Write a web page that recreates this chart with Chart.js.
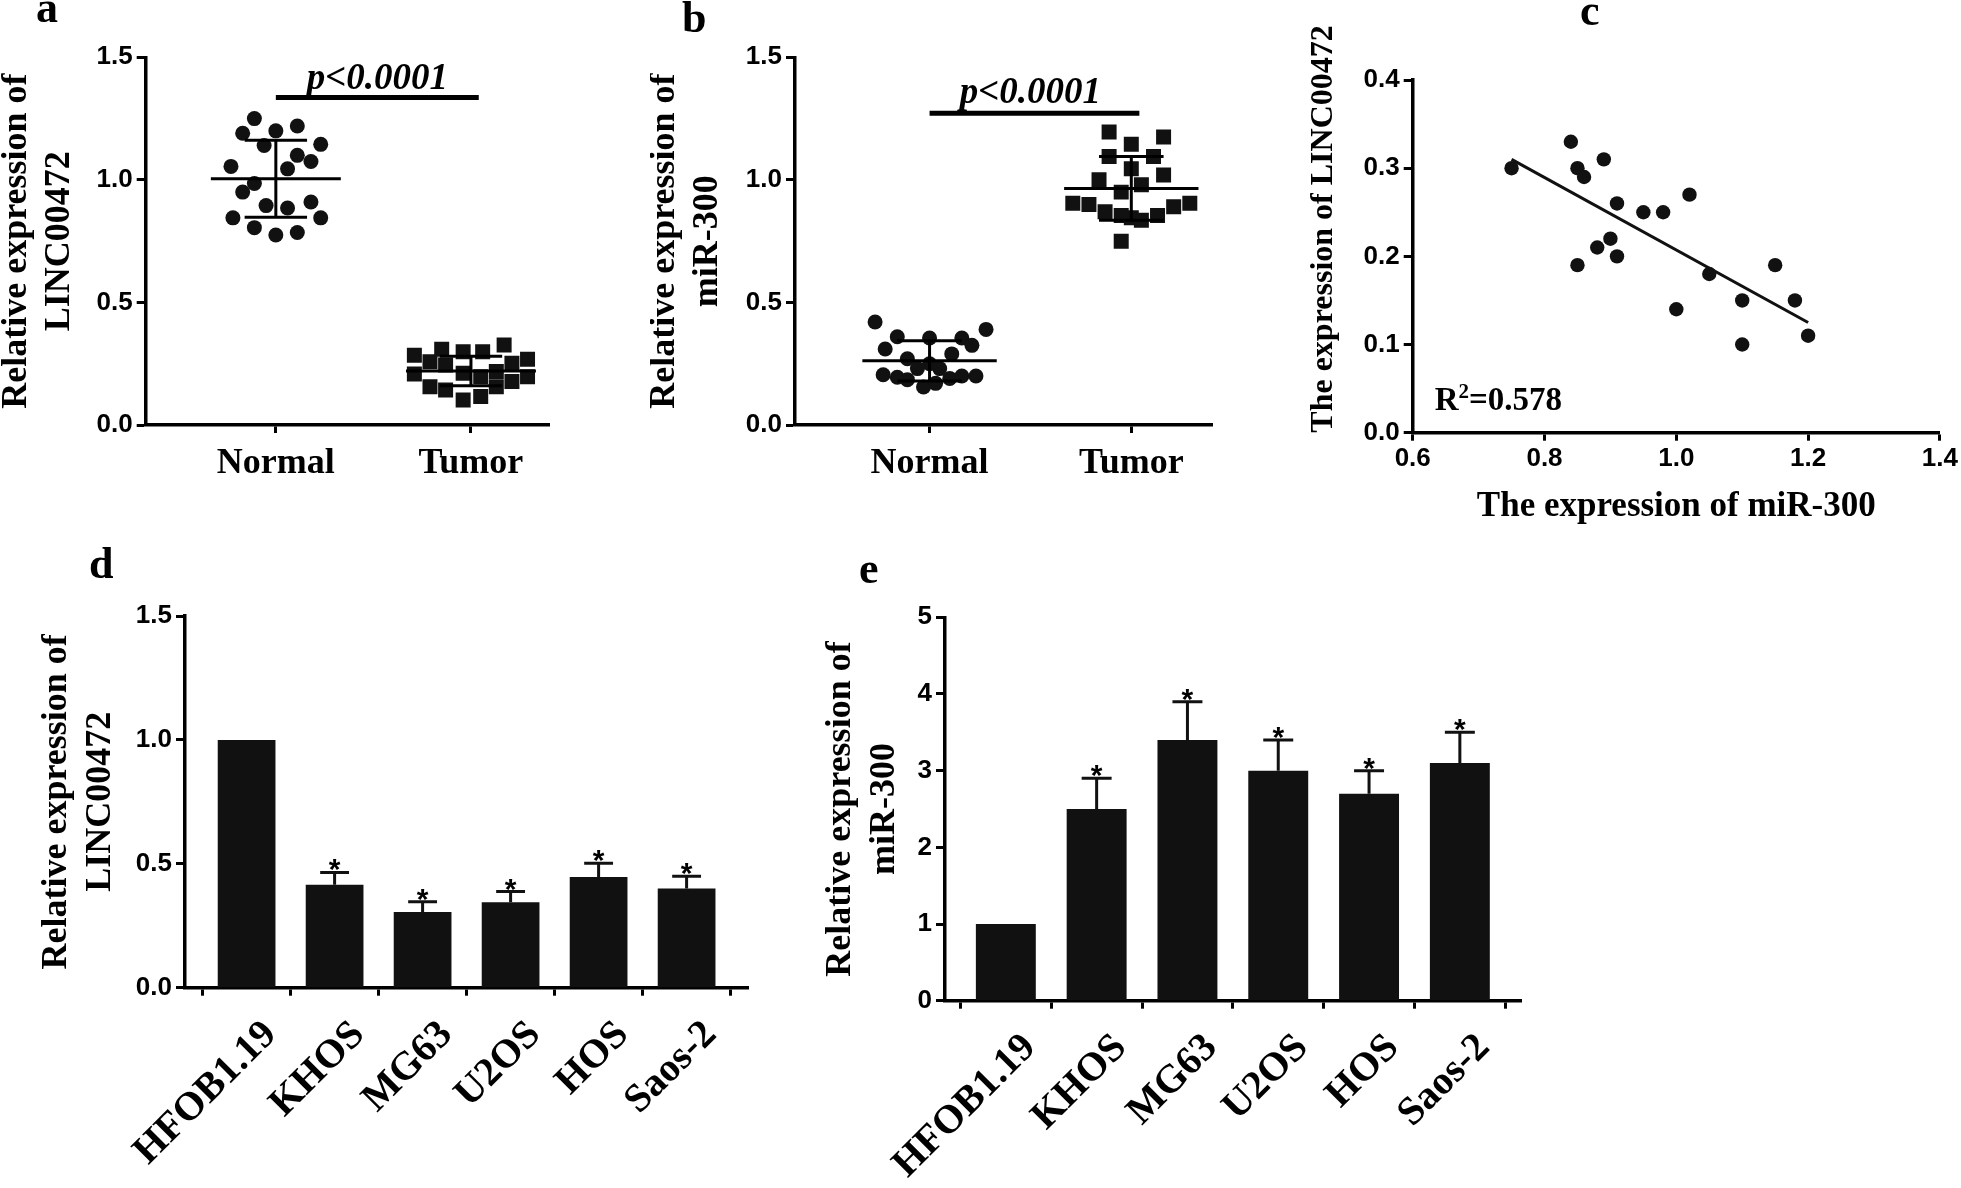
<!DOCTYPE html>
<html>
<head>
<meta charset="utf-8">
<script src="https://cdn.jsdelivr.net/npm/chart.js@4.4.1/dist/chart.umd.min.js"></script>
<style>
html, body { margin: 0; padding: 0; background: #fff; width: 1961px; height: 1188px; overflow: hidden; }
canvas { position: absolute; }
</style>
</head>
<body>
<canvas id="ca" width="570" height="500" style="left:0px;top:0px"></canvas>
<canvas id="cb" width="580" height="500" style="left:650px;top:0px"></canvas>
<canvas id="cc" width="666" height="530" style="left:1295px;top:0px"></canvas>
<canvas id="cd" width="770" height="648" style="left:0px;top:540px"></canvas>
<canvas id="ce" width="760" height="648" style="left:790px;top:540px"></canvas>
<script>
var SERIF = "'Liberation Serif', 'Times New Roman', serif";
var SANS = "'Liberation Sans', Arial, sans-serif";
var INK = '#111';

// ---- a : LINC00472, normal vs tumor (x = group + jitter) ----
var groupLabels = ['Normal', 'Tumor'];
var aNormalX = [0.89, 0.83, 1.0, 1.11, 1.23, 0.94, 1.11, 1.18, 0.77, 1.06, 0.89, 0.83, 1.18, 0.95, 1.06, 0.78, 1.23, 0.89, 1.11, 1.0];
var aNormalY = [1.25, 1.19, 1.20, 1.22, 1.145, 1.14, 1.10, 1.075, 1.055, 1.045, 0.985, 0.95, 0.91, 0.895, 0.885, 0.845, 0.845, 0.805, 0.785, 0.775];
var aTumorX = [1.71, 1.85, 1.96, 2.06, 2.17, 1.79, 1.87, 2.21, 2.29, 1.71, 1.96, 2.05, 2.13, 2.29, 1.79, 1.87, 1.96, 2.05, 2.13, 2.21];
var aTumorY = [0.285, 0.309, 0.299, 0.299, 0.326, 0.258, 0.245, 0.252, 0.268, 0.208, 0.211, 0.197, 0.218, 0.197, 0.156, 0.143, 0.102, 0.116, 0.156, 0.177];
var aMean = [1.005, 0.22];
var aSD = [0.157, 0.06];
var aBarX = [1.0, 2.04];
var aBarY = 1.336;

// ---- b : miR-300, normal vs tumor ----
var bNormalX = [0.73, 1.28, 0.84, 1.0, 1.16, 1.21, 0.78, 1.11, 0.89, 1.0, 1.05, 0.94, 0.77, 0.84, 0.89, 0.97, 1.03, 1.1, 1.16, 1.23];
var bNormalY = [0.42, 0.39, 0.36, 0.355, 0.355, 0.325, 0.31, 0.29, 0.27, 0.25, 0.23, 0.23, 0.205, 0.195, 0.185, 0.155, 0.17, 0.19, 0.2, 0.2];
var bTumorX = [1.89, 2.16, 2.0, 1.89, 2.11, 2.0, 1.84, 2.16, 2.05, 1.95, 1.71, 1.79, 1.87, 1.95, 2.0, 2.05, 2.13, 2.21, 2.29, 1.95];
var bTumorY = [1.195, 1.175, 1.145, 1.095, 1.095, 1.045, 1.0, 1.02, 0.98, 0.95, 0.905, 0.9, 0.87, 0.855, 0.845, 0.835, 0.855, 0.89, 0.905, 0.75];
var bMean = [0.262, 0.965];
var bSD = [0.082, 0.13];
var bBarX = [1.0, 2.04];
var bBarY = 1.272;

// ---- c : correlation ----
var cX = [0.75, 0.84, 0.85, 0.86, 0.89, 0.91, 0.95, 0.98, 1.02, 0.88, 0.90, 0.91, 0.85, 1.05, 1.15, 1.00, 1.10, 1.18, 1.10, 1.20];
var cY = [0.30, 0.33, 0.30, 0.29, 0.31, 0.26, 0.25, 0.25, 0.27, 0.21, 0.22, 0.20, 0.19, 0.18, 0.19, 0.14, 0.15, 0.15, 0.10, 0.11];
var cFitX = [0.75, 1.2];
var cFitY = [0.31, 0.125];

// ---- d / e : cell lines ----
var cellLines = ['HFOB1.19', 'KHOS', 'MG63', 'U2OS', 'HOS', 'Saos-2'];
var dMean = [1.0, 0.415, 0.305, 0.345, 0.447, 0.40];
var dSD = [0, 0.05, 0.042, 0.043, 0.055, 0.05];
var eMean = [1.0, 2.5, 3.4, 3.0, 2.7, 3.1];
var eSD = [0, 0.4, 0.5, 0.4, 0.3, 0.4];
var stars = ['', '*', '*', '*', '*', '*'];

Chart.defaults.color = '#000';

function pts(xs, ys) {
    return xs.map(function(x, i) { return {x: x, y: ys[i]}; });
}

function tickFont() {
    return {family: SANS, size: 26, weight: 'bold'};
}

function yAxis(min, max, step, digits, width, title, tFont, tPad, tAlign) {
    return {
        min: min, max: max,
        ticks: {stepSize: step, padding: 4, font: tickFont(),
            callback: function(v) { return v.toFixed(digits); }},
        grid: {drawOnChartArea: false, tickLength: 9, tickWidth: 3, tickColor: '#000'},
        border: {color: '#000', width: 3.5},
        title: {display: true, text: title, font: tFont, align: tAlign || 'center',
            padding: {top: tPad, bottom: 0}},
        afterFit: function(s) { s.width = width; }
    };
}

var yTitleFont = {family: SERIF, size: 36, weight: 'bold', lineHeight: 1.2};

function letterPlugin(letter, x, y) {
    return {id: 'letter', afterDraw: function(chart) {
        var ctx = chart.ctx;
        ctx.save();
        ctx.fillStyle = '#000';
        ctx.font = 'bold 44px ' + SERIF;
        ctx.textBaseline = 'alphabetic';
        ctx.fillText(letter, x, y);
        ctx.restore();
    }};
}

// mean line with SD whiskers for each group, plus the p value text
function statsPlugin(means, sds, barY, pX, pGap) {
    return {id: 'stats', afterDatasetsDraw: function(chart) {
        var ctx = chart.ctx, xs = chart.scales.x, ys = chart.scales.y;
        ctx.save();
        ctx.strokeStyle = '#000';
        ctx.lineWidth = 3;
        for (var i = 0; i < means.length; i++) {
            var g = i + 1;
            var m = ys.getPixelForValue(means[i]);
            var hi = ys.getPixelForValue(means[i] + sds[i]);
            var lo = ys.getPixelForValue(means[i] - sds[i]);
            ctx.beginPath();
            ctx.moveTo(xs.getPixelForValue(g - 0.333), m);
            ctx.lineTo(xs.getPixelForValue(g + 0.333), m);
            ctx.moveTo(xs.getPixelForValue(g), hi);
            ctx.lineTo(xs.getPixelForValue(g), lo);
            ctx.moveTo(xs.getPixelForValue(g - 0.16), hi);
            ctx.lineTo(xs.getPixelForValue(g + 0.16), hi);
            ctx.moveTo(xs.getPixelForValue(g - 0.16), lo);
            ctx.lineTo(xs.getPixelForValue(g + 0.16), lo);
            ctx.stroke();
        }
        ctx.fillStyle = '#000';
        ctx.font = 'italic bold 37px ' + SERIF;
        ctx.textAlign = 'center';
        ctx.fillText('p<0.0001', xs.getPixelForValue(pX), ys.getPixelForValue(barY) - pGap);
        ctx.restore();
    }};
}

function dotPanel(cfg) {
    return new Chart(document.getElementById(cfg.id), {
        type: 'scatter',
        data: {datasets: [
            {data: pts(cfg.nx, cfg.ny), pointStyle: 'circle', pointRadius: 7.5, backgroundColor: INK, borderWidth: 0},
            {data: pts(cfg.tx, cfg.ty), pointStyle: 'rect', pointRadius: 10.6, backgroundColor: INK, borderWidth: 0},
            {type: 'line', data: pts(cfg.barX, [cfg.barY, cfg.barY]), borderColor: '#000', borderWidth: 5,
                pointRadius: 0, showLine: true, borderCapStyle: 'butt'}
        ]},
        options: {
            responsive: false, animation: false, events: [],
            layout: {padding: {left: 0, top: 57.3, right: cfg.padRight, bottom: 0}},
            plugins: {legend: {display: false}, tooltip: {enabled: false}},
            scales: {
                x: {
                    type: 'linear', min: 0.333, max: 2.4,
                    afterBuildTicks: function(s) { s.ticks = [{value: 1}, {value: 2}]; },
                    ticks: {padding: 9, autoSkip: false, maxRotation: 0,
                        font: {family: SERIF, size: 36, weight: 'bold'},
                        callback: function(v) { return groupLabels[v - 1]; }},
                    grid: {drawOnChartArea: false, tickLength: 8, tickWidth: 3, tickColor: '#000'},
                    border: {color: '#000', width: 3.5},
                    afterFit: function(s) { s.height = 75; }
                },
                y: yAxis(0, 1.5, 0.5, 1, cfg.yWidth, cfg.title, yTitleFont, cfg.titlePad)
            }
        },
        plugins: [statsPlugin(cfg.mean, cfg.sd, cfg.barY, cfg.pX, cfg.pGap), letterPlugin(cfg.letter, cfg.lx, cfg.ly)]
    });
}

dotPanel({id: 'ca', nx: aNormalX, ny: aNormalY, tx: aTumorX, ty: aTumorY, mean: aMean, sd: aSD,
    barX: aBarX, barY: aBarY, pX: 1.52, pGap: 8.5, padRight: 21, yWidth: 145.7, titlePad: -5,
    title: ['Relative expression of', 'LINC00472'], letter: 'a', lx: 36, ly: 22});

dotPanel({id: 'cb', nx: bNormalX, ny: bNormalY, tx: bTumorX, ty: bTumorY, mean: bMean, sd: bSD,
    barX: bBarX, barY: bBarY, pX: 1.5, pGap: 10, padRight: 18, yWidth: 145, titlePad: -7,
    title: ['Relative expression of', 'miR-300'], letter: 'b', lx: 32, ly: 32});

// ---- c ----
new Chart(document.getElementById('cc'), {
    type: 'scatter',
    data: {datasets: [
        {data: pts(cX, cY), pointRadius: 7.2, backgroundColor: INK, borderWidth: 0},
        {type: 'line', data: pts(cFitX, cFitY), borderColor: INK, borderWidth: 3, pointRadius: 0, showLine: true}
    ]},
    options: {
        responsive: false, animation: false, events: [],
        layout: {padding: {left: 0, top: 80, right: 21, bottom: 0}},
        plugins: {legend: {display: false}, tooltip: {enabled: false}},
        scales: {
            x: {
                type: 'linear', min: 0.6, max: 1.4,
                ticks: {stepSize: 0.2, padding: 3, font: tickFont(), maxRotation: 0,
                    callback: function(v) { return v.toFixed(1); }},
                grid: {drawOnChartArea: false, tickLength: 8, tickWidth: 3, tickColor: '#000'},
                border: {color: '#000', width: 3.5},
                title: {display: true, text: 'The expression of miR-300',
                    font: {family: SERIF, size: 35, weight: 'bold'}, padding: {top: 0, bottom: 2}},
                afterFit: function(s) { s.height = 97.3; }
            },
            y: yAxis(0, 0.4, 0.1, 1, 117.7, 'The expression of LINC00472',
                {family: SERIF, size: 32, weight: 'bold'}, 9.8, 'start')
        }
    },
    plugins: [letterPlugin('c', 285, 25), {id: 'r2', afterDraw: function(chart) {
        var ctx = chart.ctx, a = chart.chartArea;
        var x = a.left + 22, y = a.bottom - 23;
        ctx.save();
        ctx.fillStyle = '#000';
        ctx.font = 'bold 33px ' + SERIF;
        ctx.fillText('R', x, y);
        x += ctx.measureText('R').width;
        ctx.font = 'bold 21px ' + SERIF;
        ctx.fillText('2', x, y - 12);
        x += ctx.measureText('2').width;
        ctx.font = 'bold 33px ' + SERIF;
        ctx.fillText('=0.578', x, y);
        ctx.restore();
    }}]
});

// ---- d / e : bars with SD and significance marks ----
function errPlugin(means, sds, marks) {
    return {id: 'err', afterDatasetsDraw: function(chart) {
        var ctx = chart.ctx, ys = chart.scales.y;
        var bars = chart.getDatasetMeta(0).data;
        ctx.save();
        ctx.strokeStyle = INK;
        ctx.fillStyle = '#000';
        ctx.lineWidth = 3;
        ctx.font = 'bold 30px ' + SANS;
        ctx.textAlign = 'center';
        bars.forEach(function(bar, i) {
            if (!sds[i]) return;
            var top = ys.getPixelForValue(means[i] + sds[i]);
            var half = bar.width * 0.25;
            ctx.beginPath();
            ctx.moveTo(bar.x, bar.y);
            ctx.lineTo(bar.x, top);
            ctx.moveTo(bar.x - half, top);
            ctx.lineTo(bar.x + half, top);
            ctx.stroke();
            if (marks[i]) ctx.fillText(marks[i], bar.x, top + 7);
        });
        ctx.restore();
    }};
}

function barPanel(cfg) {
    return new Chart(document.getElementById(cfg.id), {
        type: 'bar',
        data: {datasets: [{
            data: cfg.values.map(function(v, i) { return {x: i, y: v}; }),
            backgroundColor: INK, borderWidth: 0,
            barPercentage: 1, categoryPercentage: cfg.barFrac
        }]},
        options: {
            responsive: false, animation: false, events: [],
            layout: {padding: {left: 0, top: cfg.padTop, right: cfg.padRight, bottom: 0}},
            plugins: {legend: {display: false}, tooltip: {enabled: false}},
            scales: {
                x: {
                    type: 'linear', min: cfg.xMin, max: cfg.xMax, offset: false,
                    afterBuildTicks: function(s) {
                        s.ticks = cellLines.map(function(c, i) { return {value: i}; });
                    },
                    ticks: {autoSkip: false, minRotation: 45, maxRotation: 45, padding: 16, labelOffset: 24,
                        font: {family: SERIF, size: 40, weight: 'bold'},
                        callback: function(v) { return cellLines[v]; }},
                    grid: {drawOnChartArea: false, tickLength: 8, tickWidth: 3, tickColor: '#000'},
                    border: {color: '#000', width: 3.5},
                    afterFit: function(s) { s.height = cfg.xHeight; }
                },
                y: yAxis(0, cfg.yMax, cfg.step, cfg.digits, cfg.yWidth, cfg.title, yTitleFont, cfg.titlePad)
            }
        },
        plugins: [errPlugin(cfg.values, cfg.sd, stars), letterPlugin(cfg.letter, cfg.lx, cfg.ly)]
    });
}

barPanel({id: 'cd', values: dMean, sd: dSD, barFrac: 0.656, xMin: -0.7, xMax: 5.7,
    padTop: 76, padRight: 21.8, xHeight: 200.3, yMax: 1.5, step: 0.5, digits: 1, yWidth: 185,
    titlePad: 35.5, title: ['Relative expression of', 'LINC00472'], letter: 'd', lx: 89, ly: 38});

barPanel({id: 'ce', values: eMean, sd: eSD, barFrac: 0.66, xMin: -0.67, xMax: 5.68,
    padTop: 77.3, padRight: 28.4, xHeight: 187.3, yMax: 5, step: 1, digits: 0, yWidth: 155,
    titlePad: 29.5, title: ['Relative expression of', 'miR-300'], letter: 'e', lx: 69, ly: 43});
</script>
</body>
</html>
